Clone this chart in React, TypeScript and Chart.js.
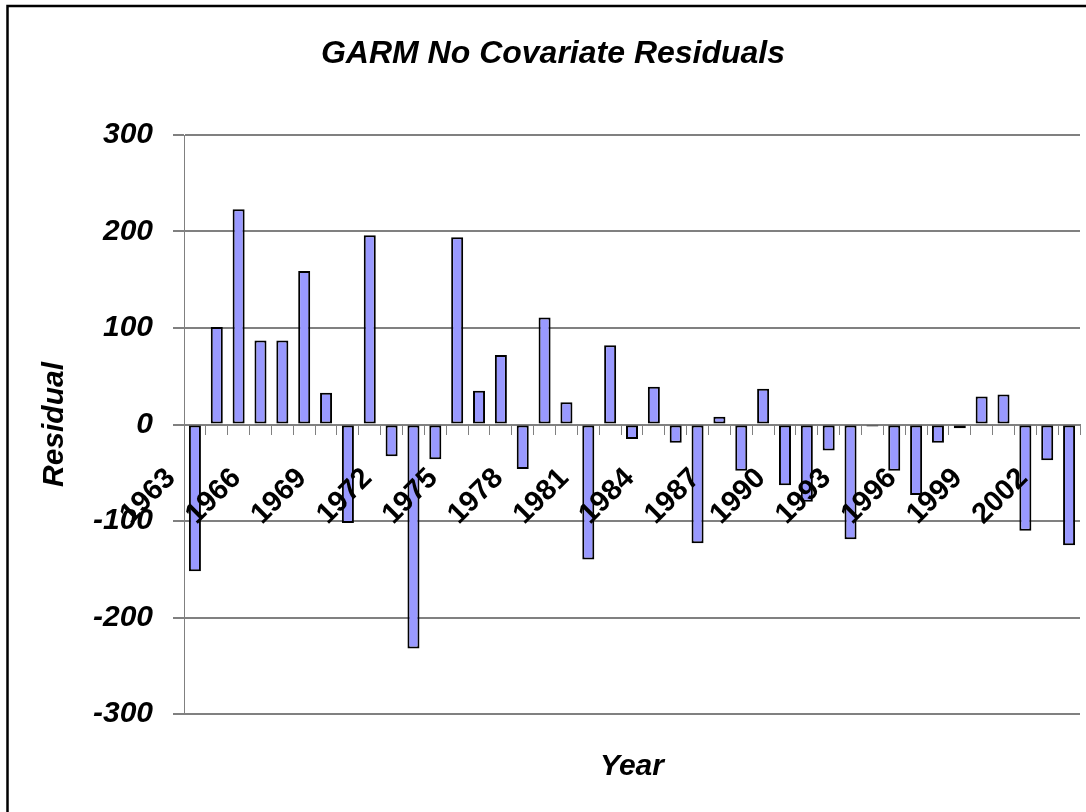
import { useEffect, useRef } from 'react';
import { Chart, registerables } from 'chart.js';

Chart.register(...registerables);

const years: string[] = [
  '1963', '1964', '1965', '1966', '1967', '1968', '1969', '1970', '1971', '1972',
  '1973', '1974', '1975', '1976', '1977', '1978', '1979', '1980', '1981', '1982',
  '1983', '1984', '1985', '1986', '1987', '1988', '1989', '1990', '1991', '1992',
  '1993', '1994', '1995', '1996', '1997', '1998', '1999', '2000', '2001', '2002',
  '2003',
];

const residuals: number[] = [
  -152, 101, 223, 87, 87, 159, 33, -102, 196, -33,
  -232, -36, 194, 35, 72, -46, 111, 23, -140, 82,
  -15, 39, -19, -123, 8, -48, 37, -63, -80, -27,
  -119, -2, -48, -73, -19, -4, 29, 31, -110, -37,
  -125,
];

const yTicks: number[] = [-300, -200, -100, 0, 100, 200, 300];
const labelEvery = 3;

const chartTitle = 'GARM No Covariate Residuals';
const xTitle = 'Year';
const yTitle = 'Residual';

const FONT = "'Liberation Sans', Arial, Helvetica, sans-serif";

const framePlugin = {
  id: 'frame',
  afterDraw(chart: any) {
    const ctx = chart.ctx;
    ctx.save();
    ctx.strokeStyle = '#000';
    ctx.lineWidth = 2.5;
    ctx.strokeRect(7.5, 6, 1200, 1000);
    ctx.restore();
  },
};

export default function App() {
  const ref = useRef<HTMLCanvasElement>(null);

  useEffect(() => {
    const chart = new Chart(ref.current as HTMLCanvasElement, {
      type: 'bar',
      data: {
        labels: years,
        datasets: [
          {
            data: residuals,
            backgroundColor: '#9999FF',
            borderColor: '#000000',
            borderWidth: 2,
            borderSkipped: false,
            barPercentage: 0.55,
            categoryPercentage: 1,
          },
        ],
      },
      options: {
        responsive: false,
        animation: false,
        layout: { padding: { left: 26, right: 6, top: 0, bottom: 0 } },
        plugins: {
          legend: { display: false },
          tooltip: { enabled: false },
          title: {
            display: true,
            text: chartTitle,
            color: '#000',
            font: { family: FONT, size: 32, weight: 'bold', style: 'italic' },
            padding: { top: 35, bottom: 61.6 },
          },
          subtitle: {
            display: true,
            position: 'bottom',
            fullSize: false,
            text: xTitle,
            color: '#000',
            font: { family: FONT, size: 30, weight: 'bold', style: 'italic' },
            padding: { top: 35, bottom: 27 },
          },
        },
        scales: {
          x: {
            type: 'category',
            position: { y: 0 },
            offset: true,
            grid: {
              display: true,
              drawOnChartArea: false,
              drawTicks: true,
              tickLength: 9,
              color: '#808080',
              lineWidth: 1,
              offset: true,
            },
            border: { display: true, color: '#808080', width: 2 },
            ticks: {
              z: 1,
              autoSkip: false,
              maxRotation: 45,
              minRotation: 45,
              padding: 28,
              labelOffset: -24,
              color: '#000',
              font: { family: FONT, size: 29, weight: 'bold' },
              callback: (_v: any, i: number) => (i % labelEvery === 0 ? years[i] : ''),
            },
            afterFit: (s: any) => {
              s.height = 0;
              s.paddingLeft = 0;
              s.paddingRight = 0;
            },
          },
          y: {
            min: -300,
            max: 300,
            afterBuildTicks: (s: any) => {
              s.ticks = yTicks.map((v) => ({ value: v }));
            },
            ticks: {
              padding: 20,
              color: '#000',
              font: { family: FONT, size: 30, weight: 'bold', style: 'italic' },
            },
            grid: { color: '#808080', lineWidth: 2, tickLength: 11, drawTicks: true },
            border: { display: true, color: '#808080', width: 1 },
            title: {
              display: true,
              text: yTitle,
              color: '#000',
              font: { family: FONT, size: 30, weight: 'bold', style: 'italic' },
              padding: { top: 11, bottom: 0 },
            },
            afterFit: (s: any) => {
              s.width = 158;
              s.paddingTop = 0;
              s.paddingBottom = 0;
            },
          },
        },
      } as any,
      plugins: [framePlugin],
    });
    return () => chart.destroy();
  }, []);

  return (
    <div style={{ position: 'absolute', left: 0, top: 0, width: 1086, height: 812, background: '#fff' }}>
      <canvas ref={ref} width={1086} height={812} style={{ display: 'block' }} />
    </div>
  );
}
